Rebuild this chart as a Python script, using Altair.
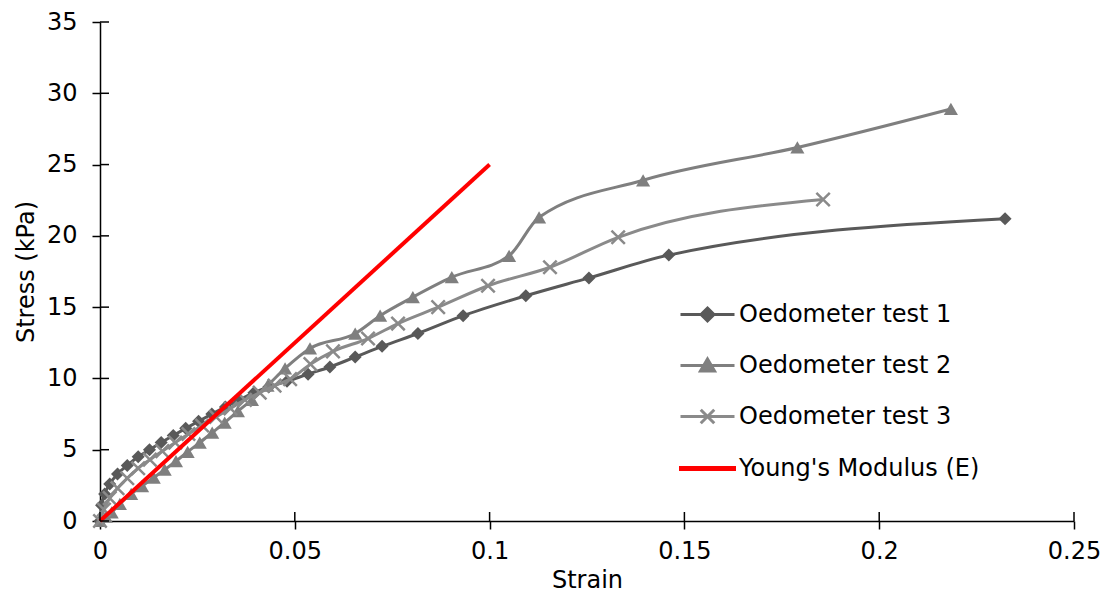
import altair as alt
import pandas as pd

# ---- data ----
strain_1 = [0, 0.0004, 0.0012, 0.0025, 0.0045, 0.0070, 0.0098, 0.0127, 0.0157, 0.0188,
            0.0220, 0.0253, 0.0287, 0.0322, 0.0358, 0.0395, 0.0433, 0.0480, 0.0534, 0.0590,
            0.0655, 0.0724, 0.0816, 0.0932, 0.1093, 0.1255, 0.1460, 0.2323]
stress_1 = [0, 1.1, 1.9, 2.6, 3.3, 3.9, 4.5, 5.0, 5.5, 6.0,
            6.5, 7.0, 7.5, 8.0, 8.5, 9.0, 9.4, 9.8, 10.3, 10.8,
            11.5, 12.25, 13.15, 14.4, 15.8, 17.05, 18.65, 21.2]

strain_2 = [0, 0.0015, 0.0030, 0.0051, 0.0080, 0.0108, 0.0138, 0.0166, 0.0195, 0.0225,
            0.0256, 0.0288, 0.0320, 0.0354, 0.0390, 0.0430, 0.0475, 0.0539, 0.0655, 0.0719,
            0.0803, 0.0903, 0.1050, 0.1127, 0.1394, 0.1790, 0.2184]
stress_2 = [0, 0.3, 0.6, 1.2, 1.9, 2.45, 3.05, 3.6, 4.2, 4.85,
            5.5, 6.2, 6.9, 7.7, 8.5, 9.5, 10.7, 12.1, 13.15, 14.4,
            15.7, 17.1, 18.6, 21.3, 23.9, 26.2, 28.9]

strain_3 = [0, 0.0010, 0.0025, 0.0045, 0.0070, 0.0098, 0.0128, 0.0160, 0.0193, 0.0227,
            0.0262, 0.0298, 0.0335, 0.0372, 0.0410, 0.0448, 0.0488, 0.0540, 0.0598, 0.0688,
            0.0765, 0.0868, 0.0996, 0.1155, 0.1330, 0.1856]
stress_3 = [0, 0.8, 1.6, 2.3, 3.0, 3.7, 4.3, 4.9, 5.5, 6.1,
            6.7, 7.3, 7.9, 8.5, 9.0, 9.5, 9.95, 11.0, 11.9, 12.8,
            13.85, 15.0, 16.5, 17.8, 19.9, 22.55]

strain_e = [0, 0.1]
stress_e = [0, 25]

series_names = ["Oedometer test 1", "Oedometer test 2", "Oedometer test 3", "Young's Modulus (E)"]
series_colors = ["#595959", "#7f7f7f", "#8a8a8a", "#ff0000"]
x_ticks = [0, 0.05, 0.1, 0.15, 0.2, 0.25]
y_ticks = [0, 5, 10, 15, 20, 25, 30, 35]

# marker shapes on the plot
marker_shapes = ["diamond", "triangle-up", "M-1,-1L1,1M-1,1L1,-1"]
marker_filled = [True, True, False]
marker_sizes = [170, 200, 180]

# legend symbols: line + marker drawn as one path
legend_shapes = [
    "M-1,0H1M0,-0.24L0.24,0L0,0.24L-0.24,0Z",
    "M-1,0H1M0,-0.24L0.26,0.2L-0.26,0.2Z",
    "M-1,0H1M-0.25,-0.25L0.25,0.25M-0.25,0.25L0.25,-0.25",
    "M-1,-0.04H1V0.04H-1Z",
]

FONT = "DejaVu Sans"
W, H = 974, 499


def frame(name, xs, ys):
    return pd.DataFrame({"series": name, "strain": xs, "stress": ys})


data_sets = [frame(series_names[0], strain_1, stress_1),
             frame(series_names[1], strain_2, stress_2),
             frame(series_names[2], strain_3, stress_3)]
df_e = frame(series_names[3], strain_e, stress_e)
df_all = pd.concat(data_sets + [df_e], ignore_index=True)

x_main = alt.X("strain:Q",
               scale=alt.Scale(domain=[0, 0.25], nice=False, zero=False),
               axis=alt.Axis(values=x_ticks, format=".2~f", title="Strain",
                             labelPadding=10, titlePadding=5, labelFlush=False))
y_main = alt.Y("stress:Q",
               scale=alt.Scale(domain=[0, 35], nice=False),
               axis=alt.Axis(values=y_ticks, title="Stress (kPa)",
                             labelPadding=15, titlePadding=8, labelFlush=False))

layers = []
for i, d in enumerate(data_sets):
    base = alt.Chart(d)
    line = base.mark_line(color=series_colors[i], strokeWidth=3, interpolate="monotone").encode(
        x=x_main, y=y_main)
    if marker_filled[i]:
        pts = base.mark_point(shape=marker_shapes[i], filled=True, size=marker_sizes[i],
                              color=series_colors[i], opacity=1)
    else:
        pts = base.mark_point(shape=marker_shapes[i], filled=False, size=marker_sizes[i],
                              color=series_colors[i], strokeWidth=2.5, opacity=1)
    layers += [line, pts.encode(x=x_main, y=y_main)]

red = alt.Chart(df_e).mark_line(color=series_colors[3], strokeWidth=4).encode(x=x_main, y=y_main)
layers.append(red)

# inward halves of the crossing tick marks
x_inner = alt.Chart(pd.DataFrame({"strain": x_ticks})).mark_rule(color="black", strokeWidth=1.5).encode(
    x=x_main, y=alt.value(H - 9), y2=alt.value(H))
y_inner = alt.Chart(pd.DataFrame({"stress": y_ticks})).mark_rule(color="black", strokeWidth=1.5).encode(
    y=y_main, x=alt.value(0), x2=alt.value(9))
layers += [x_inner, y_inner]

# legend-only layer (no rows drawn)
legend = alt.Legend(title=None, orient="none", legendX=579, legendY=264, padding=0,
                    symbolSize=2916, symbolStrokeWidth=3, labelFont=FONT, labelFontSize=24,
                    labelColor="black", labelOffset=3, rowPadding=10, labelLimit=0,
                    symbolOpacity=1)
leg_layer = alt.Chart(df_all).transform_filter("false").mark_point(filled=True, opacity=1).encode(
    x=x_main, y=y_main,
    fill=alt.Fill("series:N", scale=alt.Scale(domain=series_names, range=series_colors), legend=legend),
    stroke=alt.Stroke("series:N", scale=alt.Scale(domain=series_names, range=series_colors), legend=legend),
    shape=alt.Shape("series:N", scale=alt.Scale(domain=series_names, range=legend_shapes), legend=legend),
)
layers.append(leg_layer)

chart = alt.layer(*layers).properties(
    width=W, height=H,
    autosize=alt.AutoSizeParams(type="none"),
    padding={"left": 92, "top": 14, "right": 32, "bottom": 72},
).configure_view(strokeWidth=0).configure_axis(
    domainColor="black", domainWidth=1.5, tickColor="black", tickWidth=1.5, tickSize=8,
    labelFont=FONT, labelFontSize=24, labelColor="black",
    titleFont=FONT, titleFontSize=24, titleFontWeight="normal", titleColor="black",
    grid=False,
)

chart.save("out.html", embed_options={"renderer": "svg", "actions": False})
